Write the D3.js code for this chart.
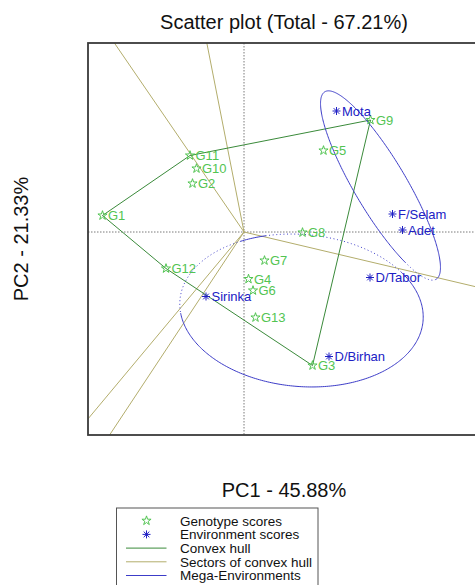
<!DOCTYPE html>
<html>
<head>
<meta charset="utf-8">
<script src="https://cdn.jsdelivr.net/npm/d3@7"></script>
<style>
  body { margin: 0; background: #fff; }
  svg { display: block; font-family: "Liberation Sans", Arial, sans-serif; }
</style>
</head>
<body>
<svg id="chart" width="475" height="585"></svg>
<script>
// ---- data ----
const chartTitle = "Scatter plot (Total - 67.21%)";
const xTitle = "PC1 - 45.88%";
const yTitle = "PC2 - 21.33%";

const genotypes = ["G1","G2","G3","G4","G5","G6","G7","G8","G9","G10","G11","G12","G13"];
const genoPC1   = [-2.83, -1.03, 1.37, 0.09, 1.59, 0.18, 0.41, 1.17, 2.53, -0.95, -1.08, -1.56, 0.23];
const genoPC2   = [ 0.33,  0.97,-2.67,-0.94, 1.63,-1.17,-0.57,-0.01, 2.24,  1.27,  1.53, -0.73,-1.71];

const environments = ["Mota","F/Selam","Adet","D/Tabor","D/Birhan","Sirinka"];
const envPC1 = [1.85, 2.97, 3.17, 2.52, 1.70, -0.76];
const envPC2 = [2.42, 0.36, 0.04, -0.91, -2.49, -1.29];

// mega-environment outlines (ellipses in PC units, angle in degrees)
const megaCx    = [2.73, 1.15];
const megaCy    = [0.93, -1.57];
const megaRa    = [2.18, 2.44];
const megaRb    = [0.52, 1.52];
const megaAngle = [-59.3, -5];
const megaDottedArcs = [[[316, 360]], [[38, 110], [123, 190]]];

const legendLabels = ["Genotype scores","Environment scores","Convex hull","Sectors of convex hull","Mega-Environments"];

// ---- layout ----
const svg = d3.select("#chart");
const box = { left: 88, top: 43, right: 480, bottom: 435 };
const x = d3.scaleLinear().domain([-3.12, 4.72]).range([box.left, box.right]);
const y = d3.scaleLinear().domain([-4.06, 3.78]).range([box.bottom, box.top]);

const colGeno = "#52c452", colEnv = "#2020c4", colHull = "#3a8a3a",
      colSector = "#b3ad6c", colMega = "#3c3cc8";

svg.append("defs").append("clipPath").attr("id", "plotClip")
  .append("rect").attr("x", box.left).attr("y", box.top)
  .attr("width", box.right - box.left).attr("height", box.bottom - box.top);

const plot = svg.append("g").attr("clip-path", "url(#plotClip)");

// reference axes through the origin
plot.append("line").attr("x1", x(0)).attr("x2", x(0)).attr("y1", box.top).attr("y2", box.bottom)
  .attr("stroke", "#7a7a7a").attr("stroke-dasharray", "1.5,1.5");
plot.append("line").attr("x1", box.left).attr("x2", box.right).attr("y1", y(0)).attr("y2", y(0))
  .attr("stroke", "#7a7a7a").attr("stroke-dasharray", "1.5,1.5");

// convex hull of genotype scores
const genoPts = genotypes.map((g, i) => [genoPC1[i], genoPC2[i]]);
const hull = d3.polygonHull(genoPts);

// sector lines: perpendicular from the origin to each hull side
hull.forEach((p, i) => {
  const q = hull[(i + 1) % hull.length];
  const dx = q[0] - p[0], dy = q[1] - p[1];
  const t = -(p[0] * dx + p[1] * dy) / (dx * dx + dy * dy);
  const fx = p[0] + t * dx, fy = p[1] + t * dy;
  const len = Math.hypot(fx, fy);
  plot.append("line")
    .attr("x1", x(0)).attr("y1", y(0))
    .attr("x2", x(fx / len * 20)).attr("y2", y(fy / len * 20))
    .attr("stroke", colSector).attr("stroke-width", 1);
});

plot.append("path")
  .attr("d", d3.line().x(d => x(d[0])).y(d => y(d[1]))(hull.concat([hull[0]])))
  .attr("fill", "none").attr("stroke", colHull).attr("stroke-width", 1);

// mega-environment ellipses, solid with dotted arcs
function ellipseArc(i, a0, a1) {
  const th = megaAngle[i] * Math.PI / 180;
  const pts = d3.range(a0, a1 + 0.01, 1).map(deg => {
    const t = deg * Math.PI / 180;
    const u = megaRa[i] * Math.cos(t), v = megaRb[i] * Math.sin(t);
    return [megaCx[i] + u * Math.cos(th) - v * Math.sin(th),
            megaCy[i] + u * Math.sin(th) + v * Math.cos(th)];
  });
  return d3.line().x(d => x(d[0])).y(d => y(d[1]))(pts);
}
megaCx.forEach((c, i) => {
  const cuts = megaDottedArcs[i].slice().sort((a, b) => a[0] - b[0]);
  // solid pieces fill the gaps between dotted arcs
  for (let k = 0; k < cuts.length; k++) {
    const from = cuts[k][1];
    const to = k + 1 < cuts.length ? cuts[k + 1][0] : cuts[0][0] + 360;
    plot.append("path").attr("d", ellipseArc(i, from, to))
      .attr("fill", "none").attr("stroke", colMega).attr("stroke-width", 1);
  }
  cuts.forEach(r => {
    plot.append("path").attr("d", ellipseArc(i, r[0], r[1]))
      .attr("fill", "none").attr("stroke", colMega).attr("stroke-width", 1)
      .attr("stroke-dasharray", "1,2.6");
  });
});

// markers
const star = d3.symbol().type(d3.symbolStar).size(26);
function asterisk(g, cx, cy, r) {
  const d = r * Math.SQRT1_2;
  const p = `M${cx - r},${cy}H${cx + r}M${cx},${cy - r}V${cy + r}` +
            `M${cx - d},${cy - d}L${cx + d},${cy + d}M${cx - d},${cy + d}L${cx + d},${cy - d}`;
  g.append("path").attr("d", p).attr("stroke", colEnv).attr("stroke-width", 1).attr("fill", "none");
}

genotypes.forEach((g, i) => {
  const px = x(genoPC1[i]), py = y(genoPC2[i]);
  plot.append("path").attr("d", star()).attr("transform", `translate(${px},${py})`)
    .attr("fill", "none").attr("stroke", colGeno).attr("stroke-width", 1);
  plot.append("text").attr("x", px + 5.5).attr("y", py).attr("dy", "0.36em")
    .attr("font-size", 13).attr("fill", colGeno).text(g);
});
environments.forEach((e, i) => {
  const px = x(envPC1[i]), py = y(envPC2[i]);
  asterisk(plot, px, py, 4);
  plot.append("text").attr("x", px + 5.5).attr("y", py).attr("dy", "0.36em")
    .attr("font-size", 13).attr("fill", colEnv).text(e);
});

// frame
svg.append("rect").attr("x", box.left).attr("y", box.top)
  .attr("width", box.right - box.left).attr("height", box.bottom - box.top)
  .attr("fill", "none").attr("stroke", "#3a3a3a").attr("stroke-width", 1.8);

// titles
const midX = (box.left + box.right) / 2, midY = (box.top + box.bottom) / 2;
svg.append("text").attr("x", midX).attr("y", 29).attr("text-anchor", "middle")
  .attr("font-size", 20).attr("fill", "#111").text(chartTitle);
svg.append("text").attr("x", midX).attr("y", 497).attr("text-anchor", "middle")
  .attr("font-size", 20).attr("fill", "#111").text(xTitle);
svg.append("text").attr("transform", `translate(28,${midY}) rotate(-90)`).attr("text-anchor", "middle")
  .attr("font-size", 20).attr("fill", "#111").text(yTitle);

// legend
const lg = svg.append("g");
lg.append("rect").attr("x", 116.5).attr("y", 508).attr("width", 201.5).attr("height", 90)
  .attr("fill", "#fff").attr("stroke", "#555").attr("stroke-width", 1);
const rowY = i => 520.7 + i * 13.7;
lg.append("path").attr("d", star()).attr("transform", `translate(146.5,${rowY(0)})`)
  .attr("fill", "none").attr("stroke", colGeno).attr("stroke-width", 1);
asterisk(lg, 146.5, rowY(1), 4);
[colHull, colSector, colMega].forEach((c, k) => {
  lg.append("line").attr("x1", 126).attr("x2", 166.5).attr("y1", rowY(k + 2)).attr("y2", rowY(k + 2))
    .attr("stroke", c).attr("stroke-width", 1);
});
legendLabels.forEach((t, i) => {
  lg.append("text").attr("x", 180).attr("y", rowY(i)).attr("dy", "0.36em")
    .attr("font-size", 13.5).attr("fill", "#111").text(t);
});
</script>
</body>
</html>
